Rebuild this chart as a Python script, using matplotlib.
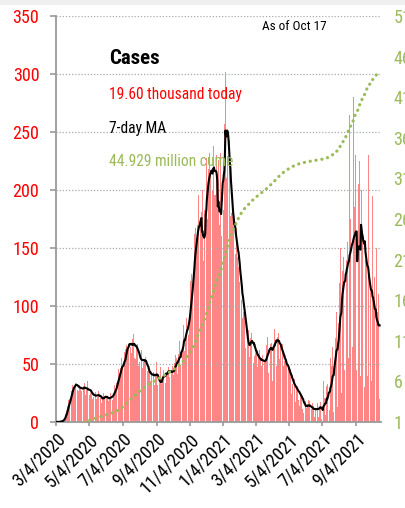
import pandas as pd
import matplotlib
matplotlib.use('Agg')
import matplotlib.pyplot as plt
from matplotlib.patches import Rectangle
from matplotlib import font_manager as fm
import numpy as np

# Daily new cases (thousands), starting Wed 3/4/2020, one row per week (Wed..Tue)
daily_cases = [
    0.03, 0.05, 0.08, 0.1, 0.12, 0.2, 0.3,
    0.45, 0.5, 0.8, 0.9, 1.0, 1.5, 1.9,
    2.5, 3.8, 6.0, 7.2, 9.1, 10.5, 11.3,
    13.5, 17.7, 18.7, 20.2, 19.5, 20.7, 25.3,
    27.0, 29.5, 32.1, 33.8, 28.8, 29.8, 30.8,
    33.1, 33.5, 35.5, 31.7, 27.5, 27.4, 27.0,
    29.9, 31.6, 32.8, 30.0, 27.0, 26.4, 25.1,
    29.4, 31.2, 34.6, 33.9, 27.4, 23.5, 24.6,
    27.4, 29.5, 35.2, 28.3, 26.6, 23.0, 23.7,
    25.2, 27.5, 27.1, 25.5, 19.8, 19.6, 21.2,
    21.5, 26.9, 25.5, 24.7, 19.8, 20.8, 21.2,
    23.3, 26.8, 24.2, 21.4, 20.3, 18.1, 16.5,
    19.7, 22.4, 23.6, 24.6, 19.6, 20.4, 21.3,
    20.4, 21.4, 24.5, 22.3, 17.7, 17.9, 18.8,
    21.0, 23.3, 25.0, 24.9, 20.0, 18.6, 23.6,
    25.3, 27.7, 32.2, 32.0, 26.4, 28.1, 33.4,
    37.5, 39.6, 45.3, 43.1, 41.3, 39.3, 46.9,
    51.1, 55.4, 54.4, 47.1, 44.8, 47.3, 60.0,
    59.9, 63.1, 70.4, 66.6, 59.2, 62.9, 65.7,
    66.3, 77.0, 72.7, 64.9, 62.4, 59.3, 63.4,
    71.6, 72.4, 75.5, 67.5, 55.6, 54.6, 63.6,
    66.7, 68.2, 67.5, 57.9, 48.6, 46.6, 51.6,
    54.1, 57.3, 62.5, 54.6, 46.3, 47.7, 51.7,
    54.1, 51.9, 64.1, 55.7, 42.4, 35.0, 44.0,
    46.4, 46.3, 48.4, 46.5, 33.0, 35.4, 36.6,
    41.7, 45.8, 47.8, 43.2, 34.3, 31.6, 40.8,
    40.2, 44.7, 51.7, 43.4, 32.1, 24.4, 25.6,
    33.8, 36.1, 47.2, 40.7, 32.9, 32.5, 39.2,
    39.8, 44.9, 46.3, 40.6, 33.9, 46.4, 40.6,
    39.1, 44.1, 55.0, 47.3, 35.0, 38.8, 42.4,
    42.2, 44.9, 51.6, 48.4, 35.7, 40.1, 45.8,
    50.6, 58.2, 57.6, 55.3, 47.4, 41.8, 52.8,
    58.5, 63.8, 69.4, 56.8, 48.9, 67.9, 60.2,
    63.4, 76.0, 83.8, 83.0, 60.8, 67.7, 74.5,
    78.4, 90.0, 99.1, 89.3, 75.0, 84.7, 91.6,
    104.0, 121.6, 127.0, 128.0, 107.0, 118.0, 136.0,
    143.0, 162.0, 178.0, 167.0, 137.0, 153.0, 161.0,
    170.0, 186.0, 196.0, 178.0, 143.0, 172.0, 175.0,
    181.0, 104.0, 200.0, 150.0, 139.0, 163.0, 183.0,
    200.0, 217.0, 228.0, 213.0, 175.0, 193.0, 218.0,
    221.0, 232.0, 245.0, 217.0, 188.0, 196.0, 200.0,
    247.0, 238.0, 250.0, 196.0, 188.0, 196.0, 198.0,
    230.0, 196.0, 97.0, 226.0, 154.0, 170.0, 199.0,
    232.0, 177.0, 160.0, 298.0, 208.0, 183.0, 235.0,
    257.0, 276.0, 302.0, 262.0, 210.0, 217.0, 229.0,
    233.0, 232.0, 243.0, 200.0, 178.0, 143.0, 180.0,
    185.0, 191.0, 190.0, 171.0, 135.0, 150.0, 145.0,
    155.0, 167.0, 168.0, 142.0, 111.0, 134.0, 115.0,
    121.0, 124.0, 135.0, 105.0, 86.0, 90.0, 95.0,
    95.0, 103.0, 100.0, 84.0, 64.0, 54.0, 64.0,
    70.0, 70.0, 79.0, 71.0, 56.0, 57.0, 72.0,
    76.0, 77.0, 79.0, 63.0, 51.0, 59.0, 57.0,
    67.0, 67.0, 67.0, 60.0, 40.0, 47.0, 56.0,
    58.0, 62.0, 63.0, 55.0, 35.0, 48.0, 53.0,
    58.0, 59.0, 62.0, 53.0, 34.0, 52.0, 54.0,
    66.0, 70.0, 73.0, 61.0, 42.0, 65.0, 62.0,
    67.0, 77.0, 68.0, 61.0, 35.0, 75.0, 67.0,
    74.0, 80.0, 82.0, 66.0, 48.0, 70.0, 73.0,
    75.0, 77.0, 80.0, 54.0, 43.0, 67.0, 60.0,
    64.0, 67.0, 68.0, 48.0, 32.0, 53.0, 52.0,
    58.0, 57.0, 54.0, 40.0, 29.0, 48.0, 41.0,
    46.0, 47.0, 46.0, 30.0, 24.0, 34.0, 33.0,
    37.0, 36.0, 37.0, 25.0, 17.0, 27.0, 30.0,
    30.0, 31.0, 31.0, 19.0, 14.0, 21.0, 24.0,
    25.0, 24.0, 24.0, 11.0, 9.0, 8.0, 16.0,
    19.0, 18.0, 15.0, 12.0, 7.0, 13.0, 15.0,
    19.0, 17.0, 18.0, 8.0, 5.0, 11.0, 12.0,
    16.0, 14.0, 14.0, 7.0, 4.0, 12.0, 11.0,
    15.0, 14.0, 16.0, 6.0, 4.0, 15.0, 14.0,
    17.0, 17.0, 14.0, 3.0, 2.0, 5.0, 35.0,
    22.0, 21.0, 22.0, 6.0, 4.0, 31.0, 30.0,
    33.0, 33.0, 39.0, 10.0, 6.0, 55.0, 38.0,
    48.0, 53.0, 65.0, 15.0, 9.0, 95.0, 63.0,
    72.0, 80.0, 95.0, 22.0, 13.0, 125.0, 85.0,
    115.0, 120.0, 150.0, 40.0, 25.0, 190.0, 130.0,
    140.0, 142.0, 175.0, 45.0, 30.0, 230.0, 140.0,
    160.0, 155.0, 195.0, 55.0, 35.0, 265.0, 150.0,
    175.0, 170.0, 215.0, 65.0, 45.0, 280.0, 165.0,
    185.0, 175.0, 230.0, 70.0, 45.0, 100.0, 230.0,
    205.0, 180.0, 225.0, 60.0, 40.0, 250.0, 200.0,
    180.0, 165.0, 200.0, 50.0, 30.0, 265.0, 140.0,
    150.0, 140.0, 175.0, 40.0, 25.0, 230.0, 110.0,
    125.0, 120.0, 150.0, 35.0, 22.0, 195.0, 105.0,
    105.0, 100.0, 125.0, 28.0, 20.0, 150.0, 90.0,
    95.0, 90.0, 110.0, 28.0, 19.6,
]

start_date = '2020-03-04'
date_ticks = ['3/4/2020', '5/4/2020', '7/4/2020', '9/4/2020', '11/4/2020',
              '1/4/2021', '3/4/2021', '5/4/2021', '7/4/2021', '9/4/2021']
left_ticks = [0, 50, 100, 150, 200, 250, 300, 350]
right_ticks = [1, 6, 11, 16, 21, 26, 31, 36, 41, 46, 51]

red = '#ff0000'
green = '#9bbb59'
grey = '#9a9a9a'


# look for a narrow sans font on this machine (by file name), else plain sans
def find_font(bold):
    files = [f.fname for f in fm.fontManager.ttflist]
    if bold:
        keys = ['LiberationSansNarrow-Bold.', 'ArialNarrowBold', 'RobotoCondensed-Bold.',
                'NotoSans-CondensedBold.', 'OpenSans-CondensedBold', 'DejaVuSansCondensed-Bold.']
    else:
        keys = ['LiberationSansNarrow-Regular.', 'ArialNarrow.', 'RobotoCondensed-Regular.',
                'NotoSans-Condensed.', 'OpenSans-CondensedRegular', 'DejaVuSansCondensed.']
    for k in keys:
        for f in files:
            if k.lower() in f.lower():
                return fm.FontProperties(fname=f), True
    return fm.FontProperties(family='Liberation Sans', weight='bold' if bold else 'normal'), False


font_reg, narrow = find_font(False)
font_bold, _ = find_font(True)
k = 1.0 if narrow else 0.86  # shrink a wide font so the texts keep their width


def fp(base, size):
    p = base.copy()
    p.set_size(size * k)
    return p


dates = pd.date_range(start_date, periods=len(daily_cases), freq='D')
cases = pd.Series(daily_cases, index=dates)
ma7 = cases.rolling(7, min_periods=1).mean()
cume = cases.cumsum() / 1000.0  # millions

fig = plt.figure(figsize=(4.05, 5.08), dpi=100)
ax = fig.add_axes([56 / 405, 86 / 508, 325 / 405, 406 / 508])
ax2 = ax.twinx()

ax.bar(dates, cases.values, width=0.85, color='#ff8686', linewidth=0, zorder=1)
ax.plot(dates, ma7.values, color='black', lw=1.5, zorder=4)
ax2.plot(dates, cume.values, color=green, lw=2.3, linestyle=(0, (0.05, 1.8)),
         dash_capstyle='round')

ax.set_ylim(0, 350)
ax.set_yticks(left_ticks)
ax.set_xlim(pd.Timestamp(start_date), pd.Timestamp(start_date) + pd.Timedelta(days=594.5))
tick_pos = pd.to_datetime(date_ticks, format='%m/%d/%Y')
ax.set_xticks(tick_pos)
ax.set_xticklabels(date_ticks, rotation=45, ha='right', va='top', rotation_mode='anchor')

ax.set_axisbelow(False)
ax.yaxis.grid(True, color='#aaaaaa', linestyle=(0, (1, 1.5)), lw=0.9, zorder=2)
ax.xaxis.grid(False)

for s in ['top', 'right']:
    ax.spines[s].set_visible(False)
for s in ax2.spines.values():
    s.set_visible(False)
ax.spines['left'].set_color(grey)
ax.spines['bottom'].set_color(grey)
ax.spines['left'].set_linewidth(1.3)
ax.spines['bottom'].set_linewidth(1.3)

ax.tick_params(axis='y', colors=grey, labelcolor=red, length=4, width=1.2, pad=8)
ax.tick_params(axis='x', colors=grey, labelcolor='black', length=3, width=1.2, pad=3)

ax2.set_ylim(1, 51)
ax2.set_yticks(right_ticks)
ax2.tick_params(axis='y', length=0, labelcolor=green, pad=9)

for lbl in ax.get_yticklabels() + ax.get_xticklabels() + ax2.get_yticklabels():
    lbl.set_fontproperties(fp(font_reg, 13))

fig.patches.append(Rectangle((0, 1 - 4 / 508), 1, 4 / 508, transform=fig.transFigure,
                             color='#f0f0f0', zorder=0))

fig.text(109 / 405, 1 - 58 / 508, 'Cases', fontproperties=fp(font_bold, 15), va='center')
fig.text(109 / 405, 1 - 94 / 508, '19.60 thousand today', fontproperties=fp(font_reg, 11.2),
         color=red, va='center')
fig.text(109 / 405, 1 - 128 / 508, '7-day MA', fontproperties=fp(font_reg, 11.2),
         color='black', va='center')
fig.text(109 / 405, 1 - 162 / 508, '44.929 million cume', fontproperties=fp(font_reg, 11.2),
         color=green, va='center')
fig.text(262 / 405, 1 - 26 / 508, 'As of Oct 17', fontproperties=fp(font_reg, 9.5),
         color='black', va='center')

fig.savefig('out.png', dpi=100)
